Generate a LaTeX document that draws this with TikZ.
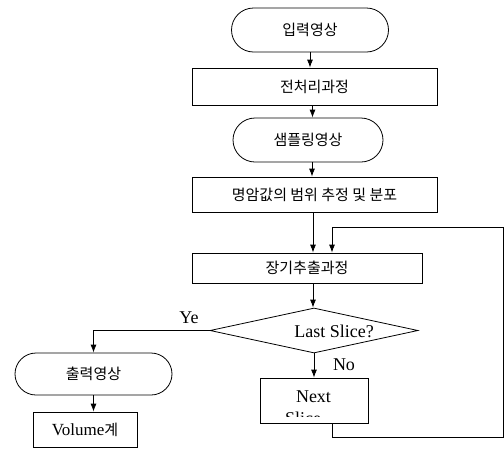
\documentclass[tikz,border=0pt]{standalone}
\usepackage{fontspec}
\setmainfont{Liberation Serif}
\newfontfamily\krfont{Noto Sans CJK KR}
\usetikzlibrary{shapes.geometric,shapes.misc,arrows.meta}

\definecolor{flowline}{RGB}{0,0,0}
\tikzset{
  procbox/.style={draw=flowline, line width=0.8pt, rectangle, inner sep=0pt, font=\krfont\fontsize{15}{17}\selectfont},
  termbox/.style={draw=flowline, line width=0.8pt, rounded rectangle, inner sep=0pt, font=\krfont\fontsize{15}{17}\selectfont},
  flowarrow/.style={draw=flowline, line width=0.8pt, -{Latex[length=8pt,width=6pt]}},
  flowlabel/.style={font=\fontsize{18}{20}\selectfont, inner sep=0pt},
}

\begin{document}
\begin{tikzpicture}[x=1pt,y=-1pt]
\useasboundingbox (0,0) rectangle (504,448);
\node[termbox, minimum width=157pt, minimum height=44pt] (inimg) at (310,30) {입력영상};
\node[procbox, minimum width=245pt, minimum height=37pt] (prep) at (314.5,86.5) {전처리과정};
\node[termbox, minimum width=150pt, minimum height=44pt] (sample) at (308,140) {샘플링영상};
\node[procbox, minimum width=245pt, minimum height=35pt] (range) at (314.5,194.5) {명암값의 범위 추정 및 분포};
\node[procbox, minimum width=230pt, minimum height=30pt] (extract) at (307,268) {장기추출과정};
\node[draw=flowline, line width=0.8pt, diamond, minimum width=208pt, minimum height=45pt, inner sep=0pt] (last) at (314,330.5) {};
\node[flowlabel] (lasttext) at (334,331) {Last Slice?};
\node[termbox, minimum width=157pt, minimum height=42pt] (outimg) at (93.5,374) {출력영상};
\node[procbox, minimum width=104pt, minimum height=35pt] (volume) at (85,429.5) {\rmfamily\fontsize{17}{19}\selectfont Volume\krfont\fontsize{15}{17}\selectfont 계};
\node[procbox, minimum width=108pt, minimum height=45pt] (nextsl) at (314,400.5) {};
\node[flowlabel] (nexttext) at (313.5,397) {Next};
\begin{scope}
\clip (262,380) rectangle (366,416);
\node[flowlabel] (slicetext) at (303,418) {Slice};
\end{scope}
\node[flowlabel] (yeslabel) at (189,318) {Ye};
\node[flowlabel] (nolabel) at (344,365) {No};
\coordinate (loopbot) at (503,437);
\coordinate (looptop) at (503,227);

\draw[flowarrow] (inimg.south) -- (inimg.south |- prep.north);
\draw[flowarrow] ([xshift=-2pt]prep.south) -- ([xshift=-2pt]prep.south |- sample.north);
\draw[flowarrow] ([xshift=4pt]sample.south) -- ([xshift=4pt]sample.south |- range.north);
\draw[flowarrow] ([xshift=-1.5pt]range.south) -- ([xshift=-1.5pt]range.south |- extract.north);
\draw[flowarrow] ([xshift=6pt]extract.south) -- ([xshift=6pt]extract.south |- last.north);
\draw[flowarrow] (last.west) -| (outimg.north);
\draw[flowarrow] (outimg.south) -- (outimg.south |- volume.north);
\draw[flowarrow] (last.south) -- (last.south |- nextsl.north);
\draw[flowarrow] ([xshift=18pt]nextsl.south) |- (loopbot) -- (looptop) -| ([xshift=25pt]extract.north);
\end{tikzpicture}
\end{document}
